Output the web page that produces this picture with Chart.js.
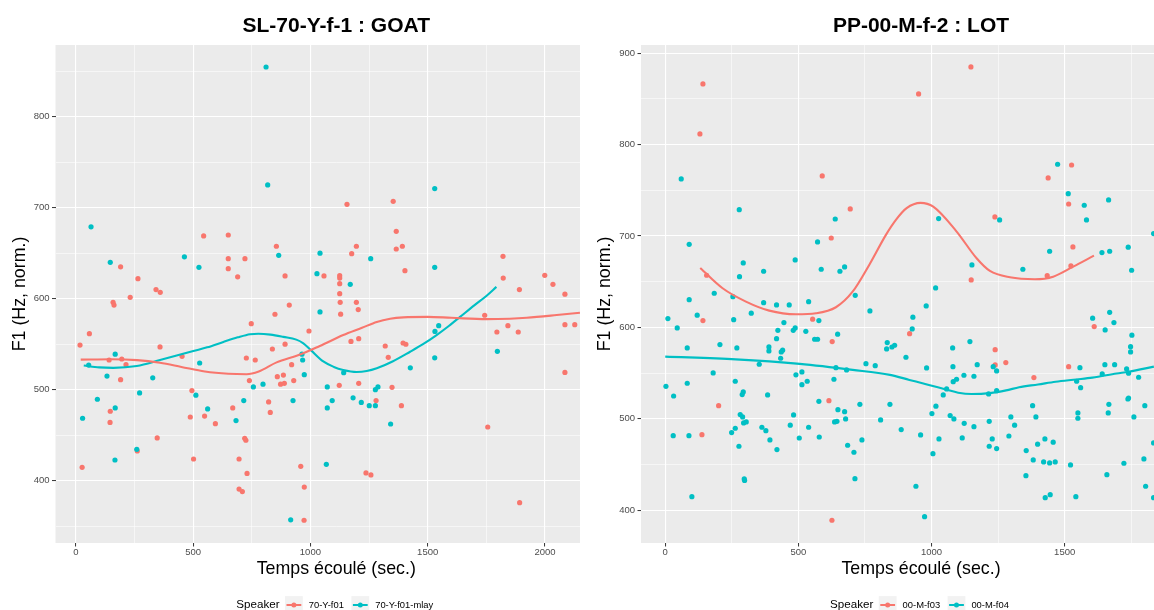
<!DOCTYPE html>
<html><head><meta charset="utf-8">
<script src="https://cdn.jsdelivr.net/npm/chart.js@4.4.1/dist/chart.umd.min.js"></script>
<style>
html,body{margin:0;padding:0;background:#fff;}
body{width:1154px;height:610px;overflow:hidden;position:relative;}
#wrapL{position:absolute;left:0;top:0;width:580px;height:610px;overflow:hidden;}
#wrapR{position:absolute;left:585px;top:0;width:636px;height:610px;background:#fff;}
canvas{display:block;}
</style></head><body>
<div id="wrapL"><canvas id="cL" width="636" height="610"></canvas></div>
<div id="wrapR"><canvas id="cR" width="636" height="610"></canvas></div>
<script>
const FONT = "'Liberation Sans', Arial, Helvetica, sans-serif";
const RED = '#F8766D', TEAL = '#00BFC4';

// ---------- left panel : SL-70-Y-f-1 : GOAT ----------
const leftTitle = 'SL-70-Y-f-1 : GOAT';
const leftSpeakers = ['70-Y-f01', '70-Y-f01-mlay'];
const leftXTicks = [0, 500, 1000, 1500, 2000];
const leftXMinor = [250, 750, 1250, 1750, 2250];
const leftYTicks = [400, 500, 600, 700, 800];
const leftYMinor = [350, 450, 550, 650, 750, 850];
const leftXRange = [-86.5, 2307];
const leftYRange = [331.5, 878.8];

const leftPtsA = [ // 70-Y-f01
[545,669],[650,670],[855,657.6],[650,644],[721,644],[191,635],[650,633],[690,624],[892,625],[265,622],[342,610],[360,607],
[1156,703.7],[1353,707],[1366,674],[1196,657.6],[1392,657.6],[1176,649.5],[1366,654.6],[1058,625],[1125,625.3],[1125,622.7],[1125,616.5],[1125,605.5],[1403,630.8],[1821,646.6],[1822,622.7],[1999,625.7],[2034,615.8],[1891,610],[2085,605],
[232,601.5],[159,596],[163,593],[58,561.5],[18,549],[359,547],[453,536.7],[142,532.6],[196,533.7],[214,527.5],[191,511],[495,499],[147,476.3],[146,464],[488,470],[549,471],[595,462.6],[669,480],[347,447],[262,432.6],[27,414.7],[502,423.8],[720,446.6],[725,444.4],[696,423.8],[730,408],[696,390.8],[710,388],[973,356.5],[959,415.8],[974,393],[748,572.5],[849,582.9],[910,593],[994,564.5],[727,534.8],[765,532.6],[838,544.7],[892,550],[920,527.5],[740,510],[859,514.3],[885,516],[873,506],[889,507],[929,510],[822,486.5],[829,475],
[1127,596],[1196,596],[1129,583],[1204,588],[1173,553],[1206,556],[1319,548],[1332,535.6],[1395,551.3],[1407,549.9],[1123,504.8],[1206,507],[1280,488],[1348,502.6],[1388,482.4],[1237,408.5],[1258,406.3],[1743,581.8],[1795,563.4],[1842,570.3],[1886,563.4],[1756,459],[1892,375.8],[2085,571.4],[2127,571.4],[2085,519]
];
const leftPtsB = [ // 70-Y-f01-mlay
[811,854.6],[818,725],[65,679],[865,647.7],[463,646],[147,640],[525,634.5],[1028,627.5],[1041,650],
[1530,721],[1257,644],[1170,615.8],[1530,634.5],
[168,539],[55,527],[133,515],[328,513],[528,529.3],[272,496.4],[512,494],[92,489.5],[168,480],[29,468.6],[562,478.8],[716,488],[683,466],[260,434.5],[167,422.7],[916,357],[1041,585.4],[964,539],[967,532.6],[974,516.5],[757,503],[798,506],[926,488],
[1142,518.7],[1072,503],[1093,488],[1072,480],[1182,491],[1217,486],[1251,482.4],[1277,482.4],[1277,500],[1288,503],[1342,462.3],[1068,418],[1426,524],[1530,535],[1531,564],[1547,570.3],[1797,542.2]
];
const leftSmoothA = [[21,533],[150,533.5],[261,532.5],[359,529.5],[450,525],[550,520],[650,517.5],[728,517],[780,520],[856,530],[950,538],[1040,548],[1140,560],[1220,568],[1283,574.5],[1340,578],[1396,579.5],[1500,580],[1600,579],[1751,577.5],[1850,578],[1922,579],[2050,582],[2149,584.6]];
const leftSmoothB = [[34,526.5],[100,524.5],[160,524],[260,526],[359,532.5],[430,537.5],[501,542.5],[560,546.5],[629,552.5],[690,557.5],[743,561],[778,561.5],[830,560.5],[885,558],[940,555],[970,551],[1000,544],[1055,531],[1100,525],[1140,521.7],[1197,519.5],[1240,520.5],[1283,523.5],[1350,531],[1425,541.7],[1480,550],[1538,560],[1590,570],[1638,580],[1700,593],[1750,603],[1793,613]];

// ---------- right panel : PP-00-M-f-2 : LOT ----------
const rightTitle = 'PP-00-M-f-2 : LOT';
const rightSpeakers = ['00-M-f03', '00-M-f04'];
const rightXTicks = [0, 500, 1000, 1500, 2000];
const rightXMinor = [250, 750, 1250, 1750];
const rightYTicks = [400, 500, 600, 700, 800, 900];
const rightYMinor = [450, 550, 650, 750, 850];
const rightXRange = [-91, 2012];
const rightYRange = [364, 909];

const rightPtsA = [ // 00-M-f03
[141.6,866.4],[130.3,811.7],[589.6,765.7],[694.8,729.6],[623.4,697.8],[155.5,657],[141.6,607.4],[553.5,608.9],[627,584.4],[614.7,519.8],[200.5,514.3],[137.8,482.6],[626,388.9],
[1148,885],[951.5,855.5],[1438,763.5],[1526,777.7],[1515,735],[1238,720.8],[1531,688],[1523.5,667.2],[1149,651.9],[1434.5,656.6],[917.7,593.1],[1611,600.8],[1239,575.6],[1239,558.9],[1279,561.4],[1384.5,545],[1515,557]
];
const rightPtsB = [ // 00-M-f04
[60,762.4],[278,728.8],[90,690.9],[638.4,718.6],[572,693.5],[488,673.8],[293,670.5],[279,655.5],[369.5,661.4],[585.8,663.6],[656,661.4],[673.6,666.1],[713.5,635.1],[768.7,618],[184,637.3],[90,630.3],[254,633.6],[120,613.3],[10,609.6],[257,608.4],[45,599.4],[323,615.5],[369.5,627],[418,624.5],[465.6,624.5],[538.5,628.1],[577,607.4],[445.7,605.2],[423,596.8],[480.7,596.8],[488,599.4],[528,595.7],[418,587.6],[561,587],[572,587],[647.4,592.5],[82.6,577.5],[205.4,581.1],[269,577.5],[389.4,578.6],[389.4,574.2],[440.9,575],[435.6,573.1],[433.4,566.2],[353,559.6],[180,550.1],[263,541],[82.6,538.8],[2.6,535.5],[31.5,524.9],[293,529.3],[289,526.4],[384.5,526],[490.8,548],[513.3,551.2],[513.3,537.3],[533.2,541],[641,555.9],[681,553.4],[633.5,543.2],[577,519.1],[648.5,509.9],[673.6,507.7],[677.4,499.8],[636,496.5],[644.8,497.2],[731,515.8],[843.8,515.8],[808.8,498.7],[753.7,560.3],[788.6,558.1],[833.7,583.3],[831.4,576.4],[851.3,578.5],[861.4,580.4],[281.6,504.5],[290.6,502],[294.4,495.4],[304.2,496.5],[263,489.6],[249.3,484.8],[276.8,469.9],[363,490.7],[378,486.9],[393.2,476.8],[419.5,466.2],[482,504.2],[469.5,492.9],[538.5,490.7],[503.4,478.9],[578.4,480],[685,471],[708.6,463.3],[738.7,476.8],[30,481.5],[89,481.5],[296.7,434.1],[298,432.5],[100,414.7],[712.4,434.4],
[1473.5,778.5],[1513.4,746.3],[1573.5,733.6],[1665,739.4],[1582,717.6],[1026.7,719],[1255.7,717.6],[1834,702.6],[1738.7,687.7],[1640,681.8],[1669,683.3],[1443.5,683.3],[1751.4,662.5],[1343,663.6],[1151.7,668.3],[1015.4,643.1],[980,623.4],[930,611.1],[927.5,598.3],[1605,610],[1669,616.5],[1685,605.2],[1652,597.2],[1752.5,591.4],[1747.6,578.9],[1747.6,573.1],[1144.2,584.4],[1079.3,577.5],[904,567.3],[981.5,555.6],[1080.5,557],[1171.6,559.2],[1231.7,557],[1244.5,552.3],[1121.7,547.6],[1159.3,546.5],[1081.5,540.6],[1094,543.2],[1056.7,532.6],[1044,526],[1214.4,527.1],[1244.5,530.7],[1557.3,555.9],[1545,541],[1560,534],[1651,559.2],[1687.6,559.2],[1641,549],[1732.7,554.5],[1740,549.8],[1777.7,545.4],[1016.5,513.7],[1001.5,505.6],[1070,503.4],[1084,499.8],[1122.8,495],[1159.3,491.3],[1216.7,497.2],[1298,502],[1312,492.9],[1379.6,514.3],[1392,502],[1549.7,506.3],[1549.7,500.5],[1666,515.8],[1663.6,506.3],[1737.5,521.6],[1740,522.7],[1760,502],[1801,514.3],[886.2,488.1],[959,482.3],[1028,477.9],[1005.3,461.8],[1115.3,479],[1216.7,469.9],[1228,477.9],[1244.5,467.3],[1290.6,481.1],[1355.6,465.1],[1398.4,472.1],[1425.8,477.9],[1457,474.3],[1382,454.9],[1421,452.7],[1443.5,451.6],[1464.5,452.7],[1522,449.4],[1354.5,437.7],[1427,413.6],[1445.7,416.9],[1542,414.7],[1658.6,438.8],[1722.5,451.3],[1797.6,456],[1804,426.1],[1834,473.5],[1834,413.6],[941.4,426.1],[974,392.8]
];
const rightSmoothA = [[131.5,665],[215.5,642.8],[303,628.2],[390.6,618.3],[490.8,614.3],[566,615.4],[641,622],[703.7,639],[766,668.3],[828.8,701.2],[866.3,717.6],[906.5,730.4],[959,736.2],[1006.5,732.1],[1094.3,704.8],[1169.3,675.6],[1219.3,661.7],[1294.4,654.8],[1388,652.7],[1457,655.5],[1532,666.4],[1610,678.5]];
const rightSmoothB = [[0,568],[265,565],[505,560],[704,553.5],[844,548],[917,542.5],[990,537],[1054,532],[1100,528.5],[1150,527],[1219,528],[1280,531],[1329,534.5],[1400,537.5],[1466,540.5],[1545,543],[1604,545],[1695,549.5],[1741,551.5],[1835,557]];

// ---------- helpers ----------
const toXY = arr => arr.map(p => ({x: p[0], y: p[1]}));
const tickSetter = vals => (scale) => { scale.ticks = vals.map(v => ({value: v})); };

const panelBg = {
  id: 'panelBg',
  beforeDraw(chart) {
    const {ctx, chartArea: a} = chart;
    ctx.save();
    ctx.fillStyle = '#fff';
    ctx.fillRect(0, 0, chart.width, chart.height);
    ctx.fillStyle = '#EBEBEB';
    ctx.fillRect(a.left, a.top, a.right - a.left, a.bottom - a.top);
    ctx.restore();
  }
};

const ggLegend = {
  id: 'ggLegend',
  afterDraw(chart, args, opts) {
    const ctx = chart.ctx, a = chart.chartArea;
    const key = 17.8, gapTitle = 5.5, gapKey = 6, gapItem = 7.5;
    const titleFont = '11.6px ' + FONT, labelFont = '9.4px ' + FONT;
    ctx.save();
    ctx.font = titleFont;
    const tw = ctx.measureText(opts.title).width;
    ctx.font = labelFont;
    const lw = opts.items.map(it => ctx.measureText(it.label).width);
    let total = tw;
    opts.items.forEach((it, i) => { total += (i === 0 ? gapTitle : gapItem) + key + gapKey + lw[i]; });
    let x = (a.left + a.right) / 2 - total / 2 - 1.5;
    const yc = opts.y;
    ctx.textBaseline = 'middle';
    ctx.textAlign = 'left';
    ctx.fillStyle = '#000';
    ctx.font = titleFont;
    ctx.fillText(opts.title, x, yc);
    x += tw;
    opts.items.forEach((it, i) => {
      x += (i === 0 ? gapTitle : gapItem);
      ctx.fillStyle = '#F2F2F2';
      ctx.fillRect(x, yc - key / 2, key, key);
      ctx.strokeStyle = it.color; ctx.lineWidth = 2;
      ctx.beginPath(); ctx.moveTo(x + 1.5, yc); ctx.lineTo(x + key - 1.5, yc); ctx.stroke();
      ctx.fillStyle = it.color;
      ctx.beginPath(); ctx.arc(x + key / 2, yc, 2.5, 0, Math.PI * 2); ctx.fill();
      x += key + gapKey;
      ctx.fillStyle = '#000';
      ctx.font = labelFont;
      ctx.fillText(it.label, x, yc);
      x += lw[i];
    });
    ctx.restore();
  }
};

function makePanel(canvas, cfg) {
  const axisTick = {color: '#4D4D4D', font: {size: 9.5, family: FONT}, autoSkip: false, maxRotation: 0, callback: v => String(v)};
  return new Chart(canvas, {
    type: 'scatter',
    data: {
      datasets: [
        {label: cfg.speakers[0] + ' smooth', data: toXY(cfg.smoothA), showLine: true, borderColor: RED, borderWidth: 2.1, pointRadius: 0, cubicInterpolationMode: 'monotone', fill: false, order: 0, xAxisID: 'x', yAxisID: 'y'},
        {label: cfg.speakers[1] + ' smooth', data: toXY(cfg.smoothB), showLine: true, borderColor: TEAL, borderWidth: 2.1, pointRadius: 0, cubicInterpolationMode: 'monotone', fill: false, order: 0, xAxisID: 'x', yAxisID: 'y'},
        {label: cfg.speakers[1], data: toXY(cfg.ptsB), backgroundColor: TEAL, borderWidth: 0, pointRadius: 2.6, order: 1, xAxisID: 'x', yAxisID: 'y'},
        {label: cfg.speakers[0], data: toXY(cfg.ptsA), backgroundColor: RED, borderWidth: 0, pointRadius: 2.6, order: 2, xAxisID: 'x', yAxisID: 'y'}
      ]
    },
    options: {
      responsive: false,
      animation: false,
      layout: {padding: {left: 0, right: cfg.padRight, top: 0, bottom: 0}},
      plugins: {
        legend: {display: false},
        tooltip: {enabled: false},
        title: {display: true, text: cfg.title, fullSize: false, color: '#000', font: {size: 21, weight: 'bold', family: FONT}, padding: {top: 13.6, bottom: 6.2}},
        ggLegend: {title: 'Speaker', y: 605, items: [{label: cfg.speakers[0], color: RED}, {label: cfg.speakers[1], color: TEAL}]}
      },
      scales: {
        x: {
          type: 'linear', position: 'bottom', min: cfg.xRange[0], max: cfg.xRange[1],
          afterBuildTicks: tickSetter(cfg.xTicks),
          afterFit: s => { s.height = 67; },
          ticks: Object.assign({padding: 0.5}, axisTick),
          grid: {color: '#FFFFFF', lineWidth: 1.1, tickColor: '#333333', tickLength: 3.5, tickWidth: 1},
          border: {display: false},
          title: {display: true, text: 'Temps écoulé (sec.)', color: '#000', font: {size: 17.8, family: FONT}, padding: {top: 0, bottom: 30.5}}
        },
        y: {
          type: 'linear', position: 'left', min: cfg.yRange[0], max: cfg.yRange[1],
          afterBuildTicks: tickSetter(cfg.yTicks),
          afterFit: s => { s.width = cfg.yWidth; },
          ticks: Object.assign({padding: 2.5}, axisTick),
          grid: {color: '#FFFFFF', lineWidth: 1.1, tickColor: '#333333', tickLength: 3.5, tickWidth: 1},
          border: {display: false},
          title: {display: true, text: 'F1 (Hz, norm.)', color: '#000', font: {size: 17.8, family: FONT}, padding: {top: 9.5, bottom: 0}}
        },
        xMinor: {
          type: 'linear', position: 'bottom', min: cfg.xRange[0], max: cfg.xRange[1], z: -1,
          afterBuildTicks: tickSetter(cfg.xMinor),
          afterFit: s => { s.height = 0; },
          ticks: {display: false},
          grid: {color: '#FFFFFF', lineWidth: 0.55, drawTicks: false},
          border: {display: false}
        },
        yMinor: {
          type: 'linear', position: 'left', min: cfg.yRange[0], max: cfg.yRange[1], z: -1,
          afterBuildTicks: tickSetter(cfg.yMinor),
          afterFit: s => { s.width = 0; },
          ticks: {display: false},
          grid: {color: '#FFFFFF', lineWidth: 0.55, drawTicks: false},
          border: {display: false}
        }
      }
    },
    plugins: [panelBg, ggLegend]
  });
}

makePanel(document.getElementById('cL'), {
  title: leftTitle, speakers: leftSpeakers, ptsA: leftPtsA, ptsB: leftPtsB,
  smoothA: leftSmoothA, smoothB: leftSmoothB,
  xTicks: leftXTicks, xMinor: leftXMinor, yTicks: leftYTicks, yMinor: leftYMinor,
  xRange: leftXRange, yRange: leftYRange, yWidth: 55.5, padRight: 19
});
makePanel(document.getElementById('cR'), {
  title: rightTitle, speakers: rightSpeakers, ptsA: rightPtsA, ptsB: rightPtsB,
  smoothA: rightSmoothA, smoothB: rightSmoothB,
  xTicks: rightXTicks, xMinor: rightXMinor, yTicks: rightYTicks, yMinor: rightYMinor,
  xRange: rightXRange, yRange: rightYRange, yWidth: 56, padRight: 20
});
</script>
</body></html>
